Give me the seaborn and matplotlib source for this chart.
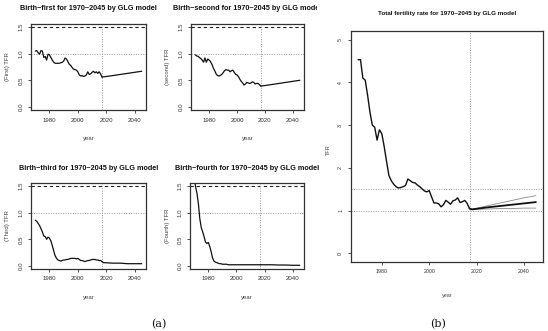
import numpy as np
import pandas as pd
import matplotlib
matplotlib.use("Agg")
import matplotlib.pyplot as plt
import seaborn as sns
from matplotlib.transforms import Bbox, TransformedBbox
from matplotlib import font_manager

# ---------------- data ----------------
years_obs = list(range(1970, 2018))
years_proj = [2017, 2025, 2030, 2035, 2040, 2045]

first_obs = [1.05, 1.06, 1.02, 0.99, 1.06, 1.05, 0.93, 0.95, 0.88, 0.99,
             0.98, 0.93, 0.88, 0.84, 0.82, 0.82, 0.82, 0.82, 0.83, 0.84,
             0.86, 0.92, 0.90, 0.85, 0.80, 0.78, 0.74, 0.71, 0.70, 0.69,
             0.66, 0.60, 0.58, 0.59, 0.57, 0.58, 0.60, 0.66, 0.61, 0.62,
             0.65, 0.67, 0.64, 0.66, 0.63, 0.66, 0.62, 0.56]
first_proj = [0.56, 0.59, 0.61, 0.63, 0.65, 0.67]

second_obs = [0.98, 0.96, 0.95, 0.93, 0.91, 0.88, 0.84, 0.92, 0.84, 0.90,
              0.88, 0.85, 0.80, 0.73, 0.68, 0.62, 0.59, 0.58, 0.59, 0.61,
              0.64, 0.68, 0.70, 0.69, 0.69, 0.66, 0.68, 0.69, 0.65, 0.61,
              0.60, 0.57, 0.52, 0.48, 0.45, 0.41, 0.43, 0.46, 0.45, 0.44,
              0.45, 0.47, 0.46, 0.43, 0.44, 0.44, 0.42, 0.39]
second_proj = [0.39, 0.42, 0.44, 0.46, 0.48, 0.50]

third_obs = [0.86, 0.84, 0.80, 0.76, 0.70, 0.64, 0.56, 0.55, 0.50, 0.54,
             0.52, 0.47, 0.38, 0.28, 0.19, 0.14, 0.11, 0.10, 0.09, 0.10,
             0.11, 0.11, 0.12, 0.12, 0.13, 0.14, 0.14, 0.14, 0.14, 0.13,
             0.14, 0.12, 0.10, 0.10, 0.09, 0.08, 0.09, 0.10, 0.10, 0.11,
             0.12, 0.12, 0.12, 0.11, 0.11, 0.10, 0.10, 0.08]
third_proj_years = [2017, 2018, 2025, 2030, 2035, 2040, 2045]
third_proj = [0.08, 0.06, 0.05, 0.05, 0.04, 0.04, 0.04]

fourth_obs = [1.66, 1.48, 1.36, 1.16, 0.88, 0.72, 0.64, 0.55, 0.45, 0.42,
              0.44, 0.37, 0.27, 0.15, 0.09, 0.07, 0.06, 0.05, 0.04, 0.04,
              0.03, 0.03, 0.03, 0.03, 0.02, 0.02, 0.02, 0.02, 0.02, 0.02,
              0.02, 0.02, 0.02, 0.02, 0.02, 0.02, 0.02, 0.02, 0.02, 0.02,
              0.02, 0.02, 0.02, 0.02, 0.02, 0.02, 0.02, 0.02]
fourth_proj = [0.02, 0.02, 0.015, 0.015, 0.01, 0.01]

total_obs = [4.53, 4.53, 4.10, 4.05, 3.70, 3.30, 3.00, 2.95, 2.65, 2.89,
             2.80, 2.50, 2.15, 1.82, 1.70, 1.62, 1.56, 1.53, 1.54, 1.56,
             1.59, 1.74, 1.70, 1.66, 1.65, 1.60, 1.56, 1.51, 1.46, 1.44,
             1.47, 1.32, 1.18, 1.18, 1.16, 1.09, 1.14, 1.24, 1.20, 1.15,
             1.23, 1.25, 1.30, 1.19, 1.21, 1.24, 1.17, 1.05]
proj_years_total = [2017, 2018, 2025, 2030, 2035, 2040, 2045]
total_median = [1.05, 1.03, 1.08, 1.11, 1.14, 1.17, 1.20]
total_upper = [1.05, 1.03, 1.12, 1.18, 1.24, 1.30, 1.35]
total_lower = [1.05, 1.03, 1.04, 1.05, 1.05, 1.06, 1.06]

x_ticks = [1980, 2000, 2020, 2040]
small_yticks = [0.0, 0.5, 1.0, 1.5]
small_yticklabels = ["0.0", "0.5", "1.0", "1.5"]
big_yticks = [0, 1, 2, 3, 4, 5]

panel_titles = ["Birth\u2212first for 1970~2045 by GLG model",
                "Birth\u2212second for 1970~2045 by GLG model",
                "Birth\u2212third for 1970~2045 by GLG model",
                "Birth\u2212fourth for 1970~2045 by GLG model"]
panel_ylabels = ["(First) TFR", "(second) TFR", "(Third) TFR", "(Fourth) TFR"]
big_title = "Total fertility rate for 1970~2045 by GLG model"

# ---------------- style ----------------
sns.set_theme(style="ticks")
avail = {f.name for f in font_manager.fontManager.ttflist}
SANS = "Liberation Sans" if "Liberation Sans" in avail else "DejaVu Sans"
NARROW = "Liberation Sans Narrow" if "Liberation Sans Narrow" in avail else SANS
plt.rcParams["font.family"] = [SANS, "DejaVu Sans"]

W, H = 548, 331
fig = plt.figure(figsize=(W / 100, H / 100), dpi=100)
fig.patch.set_facecolor("white")

def fbox(l, t, r, b):
    return [l / W, 1 - b / H, (r - l) / W, (b - t) / H]

def ftext(x, y, s, **kw):
    return fig.text(x / W, 1 - y / H, s, ha="center", va="center", **kw)

TXT = "#444444"
GRID = "#999999"

def style_axes(ax, yticks, ylabels, ylim, fam, fs, ypad, xpad):
    ax.set_xlim(1967, 2048)
    ax.set_ylim(*ylim)
    ax.set_xticks(x_ticks)
    ax.set_xticklabels([str(v) for v in x_ticks], fontsize=fs, color=TXT, family=fam)
    ax.set_yticks(yticks)
    ax.set_yticklabels(ylabels, fontsize=fs, color=TXT, family=fam,
                       rotation=90, va="center")
    ax.tick_params(axis="both", direction="out", length=2.2, width=0.6,
                   colors="#333333")
    ax.tick_params(axis="y", pad=ypad)
    ax.tick_params(axis="x", pad=xpad)
    for sp in ax.spines.values():
        sp.set_visible(True)
        sp.set_linewidth(0.9)
        sp.set_color("#333333")
    ax.set_xlabel("")
    ax.set_ylabel("")
    ax.set_facecolor("white")

panel_boxes = [(31, 24, 146, 110), (191, 24, 304, 110),
               (31, 183, 146, 269), (190, 183, 304, 269)]
obs_series = [first_obs, second_obs, third_obs, fourth_obs]
proj_series = [(years_proj, first_proj), (years_proj, second_proj),
               (third_proj_years, third_proj), (years_proj, fourth_proj)]

for i in range(4):
    l, t, r, b = panel_boxes[i]
    ax = fig.add_axes(fbox(l, t, r, b))
    ax.axhline(1.5, color="#222222", lw=0.8, ls=(0, (3, 2.5)))
    ax.axhline(1.0, color=GRID, lw=0.7, ls=(0, (1, 1.5)))
    ax.axvline(2017, color=GRID, lw=0.7, ls=(0, (1, 1.5)))
    sns.lineplot(x=years_obs, y=obs_series[i], ax=ax, color="#111111", lw=0.9)
    py, pv = proj_series[i]
    sns.lineplot(x=py, y=pv, ax=ax, color="#111111", lw=0.9)
    style_axes(ax, small_yticks, small_yticklabels, (-0.06, 1.56), SANS, 4.4, 2.8, 3.2)
    cx = (l + r) / 2
    tt = ftext(cx, t - 15, panel_titles[i], fontsize=5.2, fontweight="bold", color="#111111")
    if i == 1:
        tt.set_clip_box(TransformedBbox(Bbox([[0, 0], [317 / W, 1]]), fig.transFigure))
        tt.set_clip_on(True)
    ftext(cx, b + 28, "year", fontsize=4.3, color=TXT)
    ftext(l - 23, (t + b) / 2, panel_ylabels[i], fontsize=4.3, color=TXT, rotation=90)

# big panel
l, t, r, b = 351, 31, 543, 262
ax = fig.add_axes(fbox(l, t, r, b))
ax.axhline(1.5, color=GRID, lw=0.7, ls=(0, (1, 1.5)))
ax.axhline(1.0, color=GRID, lw=0.7, ls=(0, (1, 1.5)))
ax.axvline(2017, color=GRID, lw=0.7, ls=(0, (1, 1.5)))
sns.lineplot(x=years_obs, y=total_obs, ax=ax, color="#111111", lw=1.0)
sns.lineplot(x=proj_years_total, y=total_upper, ax=ax, color="#8a8a8a", lw=0.6)
sns.lineplot(x=proj_years_total, y=total_lower, ax=ax, color="#8a8a8a", lw=0.6)
sns.lineplot(x=proj_years_total, y=total_median, ax=ax, color="#111111", lw=1.3)
style_axes(ax, big_yticks, [str(v) for v in big_yticks], (-0.2, 5.2), NARROW, 3.8, 3.5, 2.5)
ftext((l + r) / 2, 13, big_title, fontsize=4.5, fontweight="bold", color="#111111",
      family=[NARROW, "DejaVu Sans"])
ftext((l + r) / 2, 296, "year", fontsize=4.0, color=TXT, family=[NARROW, "DejaVu Sans"])
ftext(328, 150, "TFR", fontsize=4.0, color=TXT, rotation=90, family=[NARROW, "DejaVu Sans"])

# captions
ftext(159, 324, "(a)", fontsize=8, color="#111111", family=["DejaVu Serif"])
ftext(438, 324, "(b)", fontsize=8, color="#111111", family=["DejaVu Serif"])

fig.savefig("out.png", dpi=100, facecolor="white")
